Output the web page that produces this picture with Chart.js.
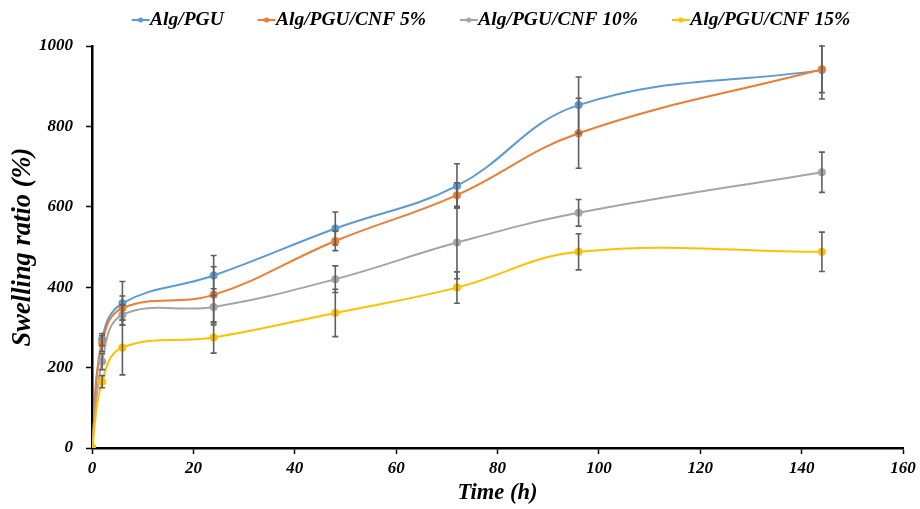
<!DOCTYPE html>
<html>
<head>
<meta charset="utf-8">
<script src="https://cdn.jsdelivr.net/npm/chart.js@4"></script>
<style>
  html, body { margin: 0; padding: 0; background: #fff; }
  #wrap { width: 920px; height: 509px; }
</style>
</head>
<body>
<div id="wrap"><canvas id="swell-chart"></canvas></div>
<script>
// sampling times (h)
const times = [0, 2, 6, 24, 48, 72, 96, 144];

// swelling ratio (%) per formulation
const algPGU = [0, 270, 360, 429, 546, 652, 853, 940];
const cnf5 = [0, 260, 348, 381, 515, 629, 783, 942];
const cnf10 = [0, 215, 331, 351, 420, 511, 585, 686];
const cnf15 = [0, 165, 250, 275, 336, 399, 488, 488];

// standard deviations
const errPGU = [0, 15, 54, 50, 41, 55, 70, 72];
const err5 = [0, 20, 30, 70, 24, 31, 87, 58];
const err10 = [0, 20, 25, 45, 33, 90, 33, 50];
const err15 = [0, 15, 68, 39, 59, 39, 45, 49];

const seriesNames = ["Alg/PGU", "Alg/PGU/CNF 5%", "Alg/PGU/CNF 10%", "Alg/PGU/CNF 15%"];
const xTicks = [0, 20, 40, 60, 80, 100, 120, 140, 160];
const yTicks = [0, 200, 400, 600, 800, 1000];

const colors = ["#5B9BD5", "#ED7D31", "#A5A5A5", "#FFC000"];
const serif = "'Liberation Serif', 'Times New Roman', serif";
const legendSize = 19.5;

function toPoints(vals) {
  return vals.map((v, i) => ({ x: times[i], y: v }));
}

// "line with a dot" legend marker, drawn in the right part of a wide canvas
// so it sits right against the label text
function legendMarker(color) {
  const c = document.createElement("canvas");
  c.width = 40;
  c.height = 8;
  const g = c.getContext("2d");
  g.strokeStyle = color;
  g.lineWidth = 2;
  g.beginPath();
  g.moveTo(21, 4);
  g.lineTo(39, 4);
  g.stroke();
  g.fillStyle = color;
  g.beginPath();
  g.arc(30, 4, 2.6, 0, Math.PI * 2);
  g.fill();
  return c;
}

//error bars drawn through the chart scales
const errorBars = {
  id: "errorBars",
  afterDatasetsDraw(chart) {
    const ctx = chart.ctx;
    const xs = chart.scales.x;
    const ys = chart.scales.y;
    const area = chart.chartArea;
    ctx.save();
    ctx.beginPath();
    ctx.rect(area.left, area.top - 1, area.right - area.left, area.bottom - area.top + 1);
    ctx.clip();
    ctx.strokeStyle = "#5f5f5f";
    ctx.lineWidth = 1.6;
    chart.data.datasets.forEach((ds) => {
      ds.data.forEach((p, i) => {
        const e = ds.errors[i];
        if (!e) return;
        const px = xs.getPixelForValue(p.x);
        const top = ys.getPixelForValue(p.y + e);
        const bot = ys.getPixelForValue(p.y - e);
        ctx.beginPath();
        ctx.moveTo(px, top);
        ctx.lineTo(px, bot);
        ctx.moveTo(px - 3, top);
        ctx.lineTo(px + 3, top);
        ctx.moveTo(px - 3, bot);
        ctx.lineTo(px + 3, bot);
        ctx.stroke();
      });
    });
    ctx.restore();
  },
};

// legend placement: fixed band height, then nudge the row into place
const legendPlace = {
  id: "legendPlace",
  afterInit(chart) {
    const lg = chart.legend;
    const fit = lg.fit;
    lg.fit = function () {
      fit.call(this);
      this.height = 46;
    };
  },
  afterLayout(chart) {
    const lg = chart.legend;
    lg.top = -12.75;
    lg.left += 34;
    lg.right += 34;
  },
};

const allVals = [algPGU, cnf5, cnf10, cnf15];
const allErrs = [errPGU, err5, err10, err15];

const datasets = allVals.map((vals, k) => ({
  label: seriesNames[k],
  data: toPoints(vals),
  errors: allErrs[k],
  showLine: true,
  borderColor: colors[k],
  backgroundColor: colors[k],
  borderWidth: 2,
  pointRadius: 3,
  pointHoverRadius: 3,
  tension: 0.4,
  order: 4 - k,
}));

new Chart(document.getElementById("swell-chart"), {
  type: "scatter",
  data: { datasets: datasets },
  plugins: [errorBars, legendPlace],
  options: {
    responsive: true,
    maintainAspectRatio: false,
    animation: false,
    layout: { padding: { top: 0, right: 17, left: 0, bottom: 0 } },
    plugins: {
      tooltip: { enabled: false },
      legend: {
        position: "top",
        labels: {
          usePointStyle: true,
          padding: 23,
          color: "#000",
          font: { family: serif, size: legendSize, style: "italic", weight: "bold" },
          sort: (a, b) => a.datasetIndex - b.datasetIndex,
          generateLabels(chart) {
            const items = Chart.defaults.plugins.legend.labels.generateLabels(chart);
            items.forEach((it) => {
              it.pointStyle = legendMarker(colors[it.datasetIndex]);
            });
            return items;
          },
        },
      },
    },
    scales: {
      x: {
        type: "linear",
        min: 0,
        max: 160,
        afterBuildTicks(scale) {
          scale.ticks = xTicks.map((v) => ({ value: v }));
        },
        grid: { drawOnChartArea: false, color: "#000", tickLength: 6, tickWidth: 1.5 },
        border: { color: "#000", width: 2.5 },
        ticks: {
          color: "#000",
          padding: 4,
          maxRotation: 0,
          callback: (v) => String(v),
          font: { family: serif, size: 17, style: "italic", weight: "bold" },
        },
        title: {
          display: true,
          text: "Time (h)",
          color: "#000",
          padding: { top: 0, bottom: 2 },
          font: { family: serif, size: 22.5, style: "italic", weight: "bold" },
        },
        afterFit(scale) {
          scale.height = 61;
        },
      },
      y: {
        min: 0,
        max: 1000,
        afterBuildTicks(scale) {
          scale.ticks = yTicks.map((v) => ({ value: v }));
        },
        grid: { drawOnChartArea: false, color: "#000", tickLength: 6, tickWidth: 1.5 },
        border: { color: "#000", width: 2.5 },
        ticks: {
          color: "#000",
          padding: 13,
          callback: (v) => String(v),
          font: { family: serif, size: 17, style: "italic", weight: "bold" },
        },
        title: {
          display: true,
          text: "Swelling ratio (%)",
          color: "#000",
          padding: { top: 7, bottom: 0 },
          font: { family: serif, size: 26.5, style: "italic", weight: "bold" },
        },
        afterFit(scale) {
          scale.width = 92;
        },
      },
    },
  },
});
</script>
</body>
</html>
